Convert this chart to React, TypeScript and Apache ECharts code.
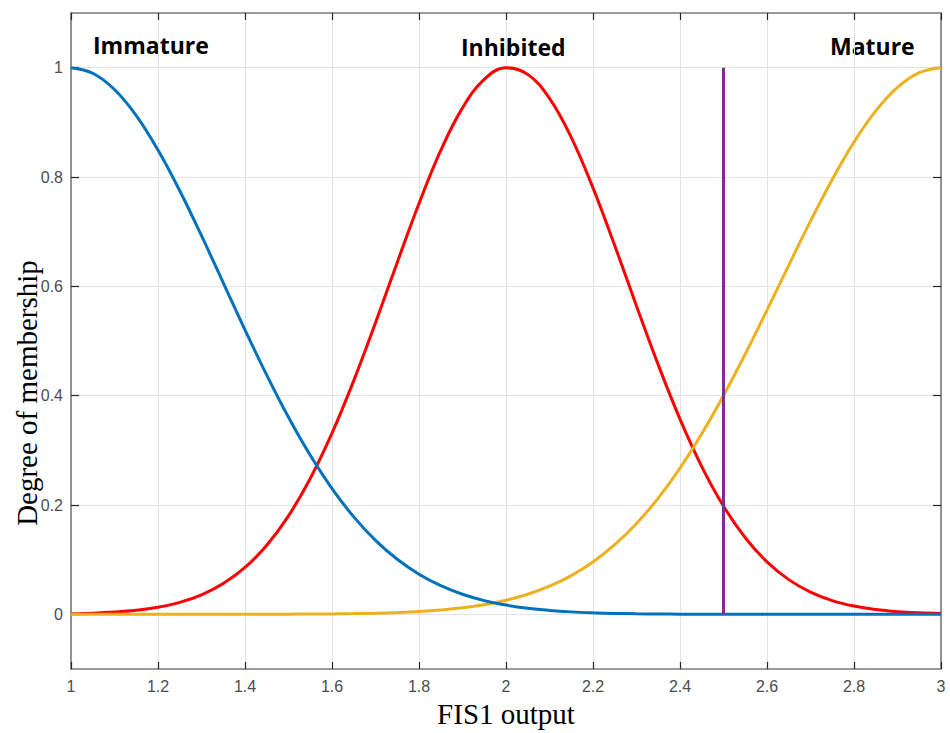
import React, { useEffect, useRef } from "react";
import * as echarts from "echarts";

const xValues = [
  1, 1.05, 1.1, 1.15, 1.2, 1.25, 1.3, 1.35, 1.4, 1.45, 1.5, 1.55, 1.6, 1.65, 1.7, 1.75, 1.8, 1.85, 1.9, 1.95,
  2, 2.05, 2.1, 2.15, 2.2, 2.25, 2.3, 2.35, 2.4, 2.45, 2.5, 2.55, 2.6, 2.65, 2.7, 2.75, 2.8, 2.85, 2.9, 2.95, 3,
];

const immature = [
  1, 0.9898, 0.96, 0.9123, 0.8493, 0.7748, 0.6926, 0.6065, 0.5204, 0.4376, 0.3604, 0.2909, 0.2301, 0.1783,
  0.1353, 0.1007, 0.0734, 0.0524, 0.0367, 0.0251, 0.0169, 0.0111, 0.0072, 0.0045, 0.0028, 0.0017, 0.001,
  0.0006, 0.0003, 0.0002, 0.0001, 0, 0, 0, 0, 0, 0, 0, 0, 0, 0,
];

const inhibited = [
  0.0012, 0.0022, 0.0042, 0.0075, 0.013, 0.0219, 0.0357, 0.0563, 0.0858, 0.1264, 0.1802, 0.2486, 0.3315,
  0.4276, 0.5335, 0.6438, 0.7515, 0.8485, 0.9265, 0.9786, 0.9997, 0.9877, 0.944, 0.8726, 0.7801, 0.6746,
  0.5642, 0.4564, 0.3571, 0.2703, 0.1979, 0.1401, 0.0959, 0.0635, 0.0407, 0.0252, 0.0151, 0.0088, 0.0049,
  0.0027, 0.0014,
];

const mature = [
  0, 0, 0, 0, 0, 0, 0, 0.0001, 0.0001, 0.0002, 0.0003, 0.0005, 0.0008, 0.0013, 0.0021, 0.0033, 0.0051,
  0.0079, 0.0119, 0.0176, 0.0257, 0.0367, 0.0514, 0.0709, 0.0959, 0.1274, 0.1661, 0.2127, 0.2675, 0.3302,
  0.4002, 0.4763, 0.5565, 0.6385, 0.7192, 0.7954, 0.8637, 0.9209, 0.964, 0.9909, 1,
];

const cutLineX = [2.5, 2.5];
const cutLineY = [0, 1];

const yTickValues = [0, 0.2, 0.4, 0.6, 0.8, 1];
const curveNames = ["Immature", "Inhibited", "Mature"];
const xTitle = "FIS1 output";
const yTitle = "Degree of membership";

export default function App() {
  const ref = useRef<HTMLDivElement>(null);

  useEffect(() => {
    const chart = echarts.init(ref.current as HTMLDivElement, null, { renderer: "svg" });
    const pairs = (ys: number[]) => xValues.map((x, i) => [x, ys[i]]);

    const axisLine = { show: true, onZero: false, lineStyle: { color: "#7a7a7a", width: 1.6 } };
    const tick = { show: true, inside: true, length: 7, lineStyle: { color: "#262626", width: 1.2 } };
    const label = {
      color: "#4d4d4d",
      fontFamily: "Liberation Sans, Arial, sans-serif",
      fontSize: 16,
    };
    const grid = { show: true, lineStyle: { color: "#e2e2e2", width: 1 } };

    const curve = (name: string, data: number[], color: string) => ({
      name,
      type: "line",
      data: pairs(data),
      showSymbol: false,
      smooth: 0.4,
      lineStyle: { color, width: 3 },
      itemStyle: { color },
      z: 3,
    });

    chart.setOption({
      animation: false,
      backgroundColor: "#ffffff",
      grid: { left: 71, right: 9, top: 13, bottom: 63 },
      xAxis: [
        {
          type: "value",
          position: "bottom",
          min: 1,
          max: 3,
          interval: 0.2,
          axisLine,
          axisTick: tick,
          axisLabel: { ...label, margin: 9 },
          splitLine: grid,
          name: xTitle,
          nameLocation: "middle",
          nameGap: 30,
          nameTextStyle: { fontFamily: "Liberation Serif, Times New Roman, serif", fontSize: 29, color: "#000" },
        },
        {
          type: "value",
          position: "top",
          min: 1,
          max: 3,
          interval: 0.2,
          axisLine,
          axisTick: tick,
          axisLabel: { show: false },
          splitLine: { show: false },
        },
      ],
      yAxis: [
        {
          type: "value",
          position: "left",
          min: -0.1,
          max: 1.1,
          axisLine,
          axisTick: { ...tick, length: 8, customValues: yTickValues },
          axisLabel: { ...label, margin: 8, customValues: yTickValues },
          splitLine: grid,
        },
        {
          type: "value",
          position: "right",
          min: -0.1,
          max: 1.1,
          axisLine,
          axisTick: { ...tick, length: 8, customValues: yTickValues },
          axisLabel: { show: false, customValues: yTickValues },
          splitLine: { show: false },
        },
      ],
      series: [
        curve(curveNames[1], inhibited, "#ff0000"),
        curve(curveNames[2], mature, "#edb120"),
        curve(curveNames[0], immature, "#0072bd"),
        {
          name: "cut",
          type: "line",
          data: cutLineX.map((x, i) => [x, cutLineY[i]]),
          showSymbol: false,
          lineStyle: { color: "#7e2f8e", width: 3 },
          itemStyle: { color: "#7e2f8e" },
          z: 4,
        },
      ],
      graphic: [
        {
          type: "text",
          left: 93,
          top: 33,
          style: { text: curveNames[0], font: "bold 23px 'Open Sans', sans-serif", fill: "#000" },
        },
        {
          type: "text",
          left: 461,
          top: 35,
          style: { text: curveNames[1], font: "bold 23px 'Open Sans', sans-serif", fill: "#000" },
        },
        {
          type: "text",
          left: 830,
          top: 34,
          style: { text: curveNames[2], font: "bold 23px 'Open Sans', sans-serif", fill: "#000" },
        },
        {
          type: "text",
          x: 27,
          y: 393,
          rotation: Math.PI / 2,
          style: {
            text: yTitle,
            font: "29px 'Liberation Serif', 'Times New Roman', serif",
            fill: "#000",
            align: "center",
            verticalAlign: "middle",
          },
        },
      ],
    });

    return () => chart.dispose();
  }, []);

  return (
    <div
      ref={ref}
      style={{ position: "fixed", left: 0, top: 0, width: 950, height: 733, background: "#fff" }}
    />
  );
}
